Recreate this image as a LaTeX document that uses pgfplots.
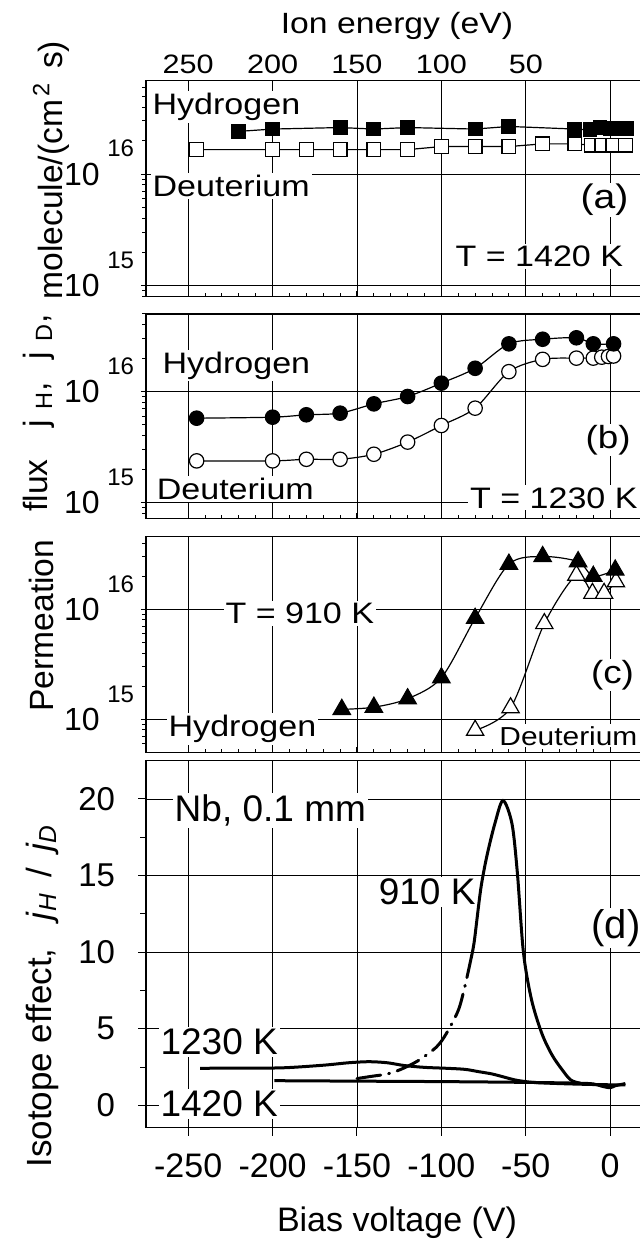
\documentclass[border=0pt]{standalone}
\usepackage{fontspec}
\setmainfont{Liberation Sans}
\newfontfamily\widesf[FakeStretch=1.15]{Liberation Sans}
\usepackage{pgfplots}
\pgfplotsset{compat=1.18}

\newcommand\fs[1]{\fontsize{#1}{#1}\selectfont}
% decade label "10" with its exponent raised above, left of the spine
\newcommand\decade[2]{%
  \node[anchor=east, inner sep=0pt, font=\fs{16pt}, xshift=-23pt] at (axis cs:-275,#1) {10};
  \node[anchor=base west, inner sep=0pt, font=\fs{12pt}, xshift=-19.5pt, yshift=8.65pt] at (axis cs:-275,#1) {#2};}

\tikzset{lbl/.style={fill=white, inner sep=1pt, font=\widesf\fs{14.8pt}}}

\pgfplotsset{
  panel/.style={
    scale only axis, width=257.4pt, anchor=south west,
    xmin=-275, xmax=30,
    xtick={-250,-200,-150,-100,-50,0},
    grid=major,
    major grid style={black, line width=0.45pt},
    axis line style={black, line width=0.75pt},
    tick style={black, line width=0.5pt},
    clip=false,
  },
  fluxpanel/.style={
    panel,
    ytick pos=left, ytick align=outside,
    xtick pos=bottom, xtick align=inside,
    minor x tick num=4,
    xticklabels={}, yticklabels={},
    major tick length=2.6pt, minor tick length=1.8pt,
  },
  logticks/.style={
    ytick={1e15,1e16},
    minor ytick={6e14,7e14,8e14,9e14,2e15,3e15,4e15,5e15,6e15,7e15,8e15,9e15,2e16,3e16,4e16,5e16,6e16},
  },
  Hsq/.style={black, line width=0.6pt, mark=square*, mark size=3.4pt, mark options={solid, fill=black, line width=0.6pt}},
  Dsq/.style={black, line width=0.6pt, mark=square*, mark size=3.4pt, mark options={solid, fill=white, line width=0.6pt}},
  Hci/.style={black, line width=0.6pt, smooth, mark=*, mark size=3.6pt, mark options={solid, fill=black, line width=0.6pt}},
  Dci/.style={black, line width=0.6pt, smooth, mark=*, mark size=3.6pt, mark options={solid, fill=white, line width=0.6pt}},
  Htr/.style={black, line width=0.6pt, smooth, mark=triangle*, mark size=5pt, mark options={solid, fill=black, line width=0.6pt}},
  Dtr/.style={black, line width=0.6pt, smooth, mark=triangle*, mark size=5pt, mark options={solid, fill=white, line width=0.6pt}},
  ratio/.style={black, line width=1.5pt, smooth, no marks},
}

\begin{document}
\begin{tikzpicture}[x=0.5pt, y=-0.5pt]

% (a) 1420 K
\begin{axis}[ymode=log, fluxpanel, logticks, at={(73pt,-148.35pt)}, height=108pt,
  ymin=7.96e14, ymax=6.9e16,
  xticklabel pos=upper, xticklabels={250,200,150,100,50,{}},
  xticklabel style={font=\widesf\fs{13.3pt}, inner sep=0pt, anchor=south, yshift=3.3pt}]
\decade{1e15}{15}
\decade{1e16}{16}
\node[lbl, anchor=base west] at (axis cs:-272.5,3.41e16) {Hydrogen};
\node[lbl, anchor=base west] at (axis cs:-272.5,6.3e15) {Deuterium};
\node[lbl, font=\widesf\fs{17pt}, inner sep=0.5pt] at (axis cs:-3.3,5.88e15) {(a)};
\node[lbl, anchor=base west] at (axis cs:-93,1.48e15) {T = 1420 K};
\addplot[Dsq] coordinates {(-245,1.66e16) (-200,1.66e16) (-180,1.66e16) (-160,1.66e16)
  (-140,1.66e16) (-120,1.66e16) (-100,1.77e16) (-80,1.77e16) (-60,1.77e16) (-40,1.87e16)
  (-21,1.87e16) (-11,1.82e16) (-5,1.82e16) (1.5,1.82e16) (9,1.82e16)};
\addplot[Hsq] coordinates {(-220,2.42e16) (-200,2.54e16) (-160,2.62e16) (-140,2.54e16)
  (-120,2.62e16) (-80,2.54e16) (-60,2.68e16) (-21,2.54e16) (-12,2.5e16) (-6,2.62e16)
  (0,2.57e16) (5,2.57e16) (10,2.57e16)};
\end{axis}

% (b) 1230 K
\begin{axis}[ymode=log, fluxpanel, logticks, at={(73pt,-259.15pt)}, height=102.15pt,
  ymin=7.2e14, ymax=5e16]
\decade{1e15}{15}
\decade{1e16}{16}
\node[lbl, anchor=base west] at (axis cs:-266.6,1.466e16) {Hydrogen};
\node[lbl, anchor=base west] at (axis cs:-270,1.057e15) {Deuterium};
\node[lbl, font=\widesf\fs{16pt}, inner sep=0.5pt] at (axis cs:-1.2,3.67e15) {(b)};
\node[lbl, anchor=base west] at (axis cs:-84.4,8.9e14) {T = 1230 K};
\addplot[Dci] coordinates {(-245,2.37e15) (-200,2.37e15) (-180,2.45e15) (-160,2.45e15)
  (-140,2.72e15) (-120,3.5e15) (-100,4.94e15) (-80,7.08e15) (-60,1.51e16) (-40,1.95e16)
  (-20,2.0e16) (-10,2.0e16) (-5,2.04e16) (-1,2.07e16) (2,2.09e16)};
\addplot[Hci] coordinates {(-245,5.75e15) (-200,5.87e15) (-180,6.17e15) (-160,6.38e15)
  (-140,7.74e15) (-120,9.02e15) (-100,1.19e16) (-80,1.62e16) (-60,2.69e16) (-40,2.96e16)
  (-20,3.05e16) (-10,2.69e16) (2,2.69e16)};
\end{axis}

% (c) 910 K, y given as log10 of the flux
\begin{axis}[fluxpanel, at={(73pt,-376.15pt)}, height=107.8pt,
  ymin=14.70, ymax=16.66, ytick={15,16},
  minor ytick={14.778,14.845,14.903,14.954,15.301,15.477,15.602,15.699,15.778,15.845,15.903,15.954,16.301,16.477,16.602}]
\decade{15}{15}
\decade{16}{16}
\node[lbl, anchor=base west] at (axis cs:-229.3,15.873) {T = 910 K};
\node[lbl, font=\widesf\fs{16pt}, inner sep=0.5pt] at (axis cs:1.4,15.403) {(c)};
\node[lbl, anchor=base west] at (axis cs:-263,14.842) {Hydrogen};
\node[lbl, anchor=base west, font=\widesf\fs{13pt}] at (axis cs:-67,14.766) {Deuterium};
\addplot[Dtr] coordinates {(-80,14.90) (-59,15.105) (-39,15.87) (-20,16.31)
  (-10.5,16.145) (-3.6,16.145) (3.4,16.25)};
\addplot[Htr] coordinates {(-159,15.09) (-140,15.11) (-120,15.187) (-100,15.378)
  (-80,15.918) (-60,16.41) (-40,16.48) (-19,16.433) (-10,16.30) (3,16.357)};
\end{axis}

% (d) isotope effect
\begin{axis}[panel, at={(73pt,-563.85pt)}, height=183.5pt,
  ymin=-1.46, ymax=22.5,
  ytick={0,5,10,15,20}, minor ytick={2.5,7.5,12.5,17.5},
  yticklabels={0,5,10,15,20},
  xticklabels={-250,-200,-150,-100,-50,0},
  xtick pos=bottom, ytick pos=left, tick align=outside,
  major tick length=4pt, minor tick length=3pt,
  yticklabel style={anchor=east, inner sep=0pt, xshift=-11.3pt, font=\fs{16.5pt}},
  xticklabel style={anchor=north, inner sep=0pt, yshift=-8.7pt, font=\fs{17pt}}]
\node[lbl, anchor=base west, font=\fs{18.5pt}] at (axis cs:-259.4,18.54) {Nb, 0.1 mm};
\node[lbl, anchor=base west, font=\fs{18.5pt}] at (axis cs:-138.5,13.09) {910 K};
\node[lbl, font=\fs{20pt}, inner sep=0.5pt] at (axis cs:3.5,11.57) {(d)};
\node[lbl, anchor=base west, font=\fs{18.5pt}] at (axis cs:-267.8,3.29) {1230 K};
\node[lbl, anchor=base west, font=\fs{18.5pt}] at (axis cs:-267.8,-0.745) {1420 K};
\addplot[ratio, line cap=round, dash pattern=on 12pt off 4pt on 0.5pt off 4pt] coordinates {
  (-150,1.75) (-141,1.9) (-132,2.05) (-124,2.35) (-114,2.9) (-103,3.8) (-97,4.7)
  (-90,6.2) (-86,7.8) (-82,9.8)};
\addplot[ratio] coordinates {(-82,9.8) (-80.4,10.8) (-76.7,14.1) (-73.1,16.25) (-68.3,18.4)
  (-63.5,19.9) (-58.2,18.4) (-55,15.2) (-51.4,10) (-46.6,6.9) (-40.5,4.7) (-34.5,3.3)
  (-28.3,2.3) (-23.3,1.65) (-18,1.45)};
\addplot[ratio] coordinates {(-243,2.42) (-220,2.43) (-194,2.45) (-170,2.62) (-155,2.78)
  (-143,2.85) (-132,2.78) (-122,2.6) (-110,2.48) (-97,2.42) (-86,2.35) (-78,2.2) (-70,2.05)
  (-62,1.82) (-56,1.65) (-46,1.5) (-30,1.42) (-10,1.36) (9,1.33)};
\addplot[ratio] coordinates {(-199,1.61) (-150,1.58) (-100,1.55) (-50,1.5) (-20,1.45)
  (-10,1.4) (-5,1.25) (0,1.15) (3,1.28) (9,1.42)};
\end{axis}

% outer labels
\node[font=\widesf\fs{14.65pt}, anchor=base] at (397,33.3) {Ion energy (eV)};
\node[font=\fs{17pt}, anchor=base] at (397,1231.7) {Bias voltage (V)};
\node[font=\fs{16.8pt}, rotate=90, anchor=base west, inner sep=0pt] at (53,712) {Permeation};
\node[font=\fs{16.8pt}, rotate=90, anchor=base west, inner sep=0pt] at (47,512)
  {flux\hspace{0.95em}j\hspace{0.3em}\textsubscript{H},\hspace{0.7em}j\hspace{0.3em}\textsubscript{D},};
\node[font=\fs{16.8pt}, rotate=90, anchor=base west, inner sep=0pt] at (62,300)
  {molecule/(cm\hspace{0.1em}\textsuperscript{2}\hspace{0.4em}s)};
\node[font=\fs{17.5pt}, rotate=90, anchor=base west, inner sep=0pt] at (51,1168)
  {Isotope effect,\hspace{0.8em}\textit{j}\textsubscript{\textit{H}}\hspace{0.45em}/\hspace{0.45em}\textit{j}\textsubscript{\textit{D}}};

\pgfresetboundingbox
\path[use as bounding box] (0,0) rectangle (639,1242);
\end{tikzpicture}
\end{document}
